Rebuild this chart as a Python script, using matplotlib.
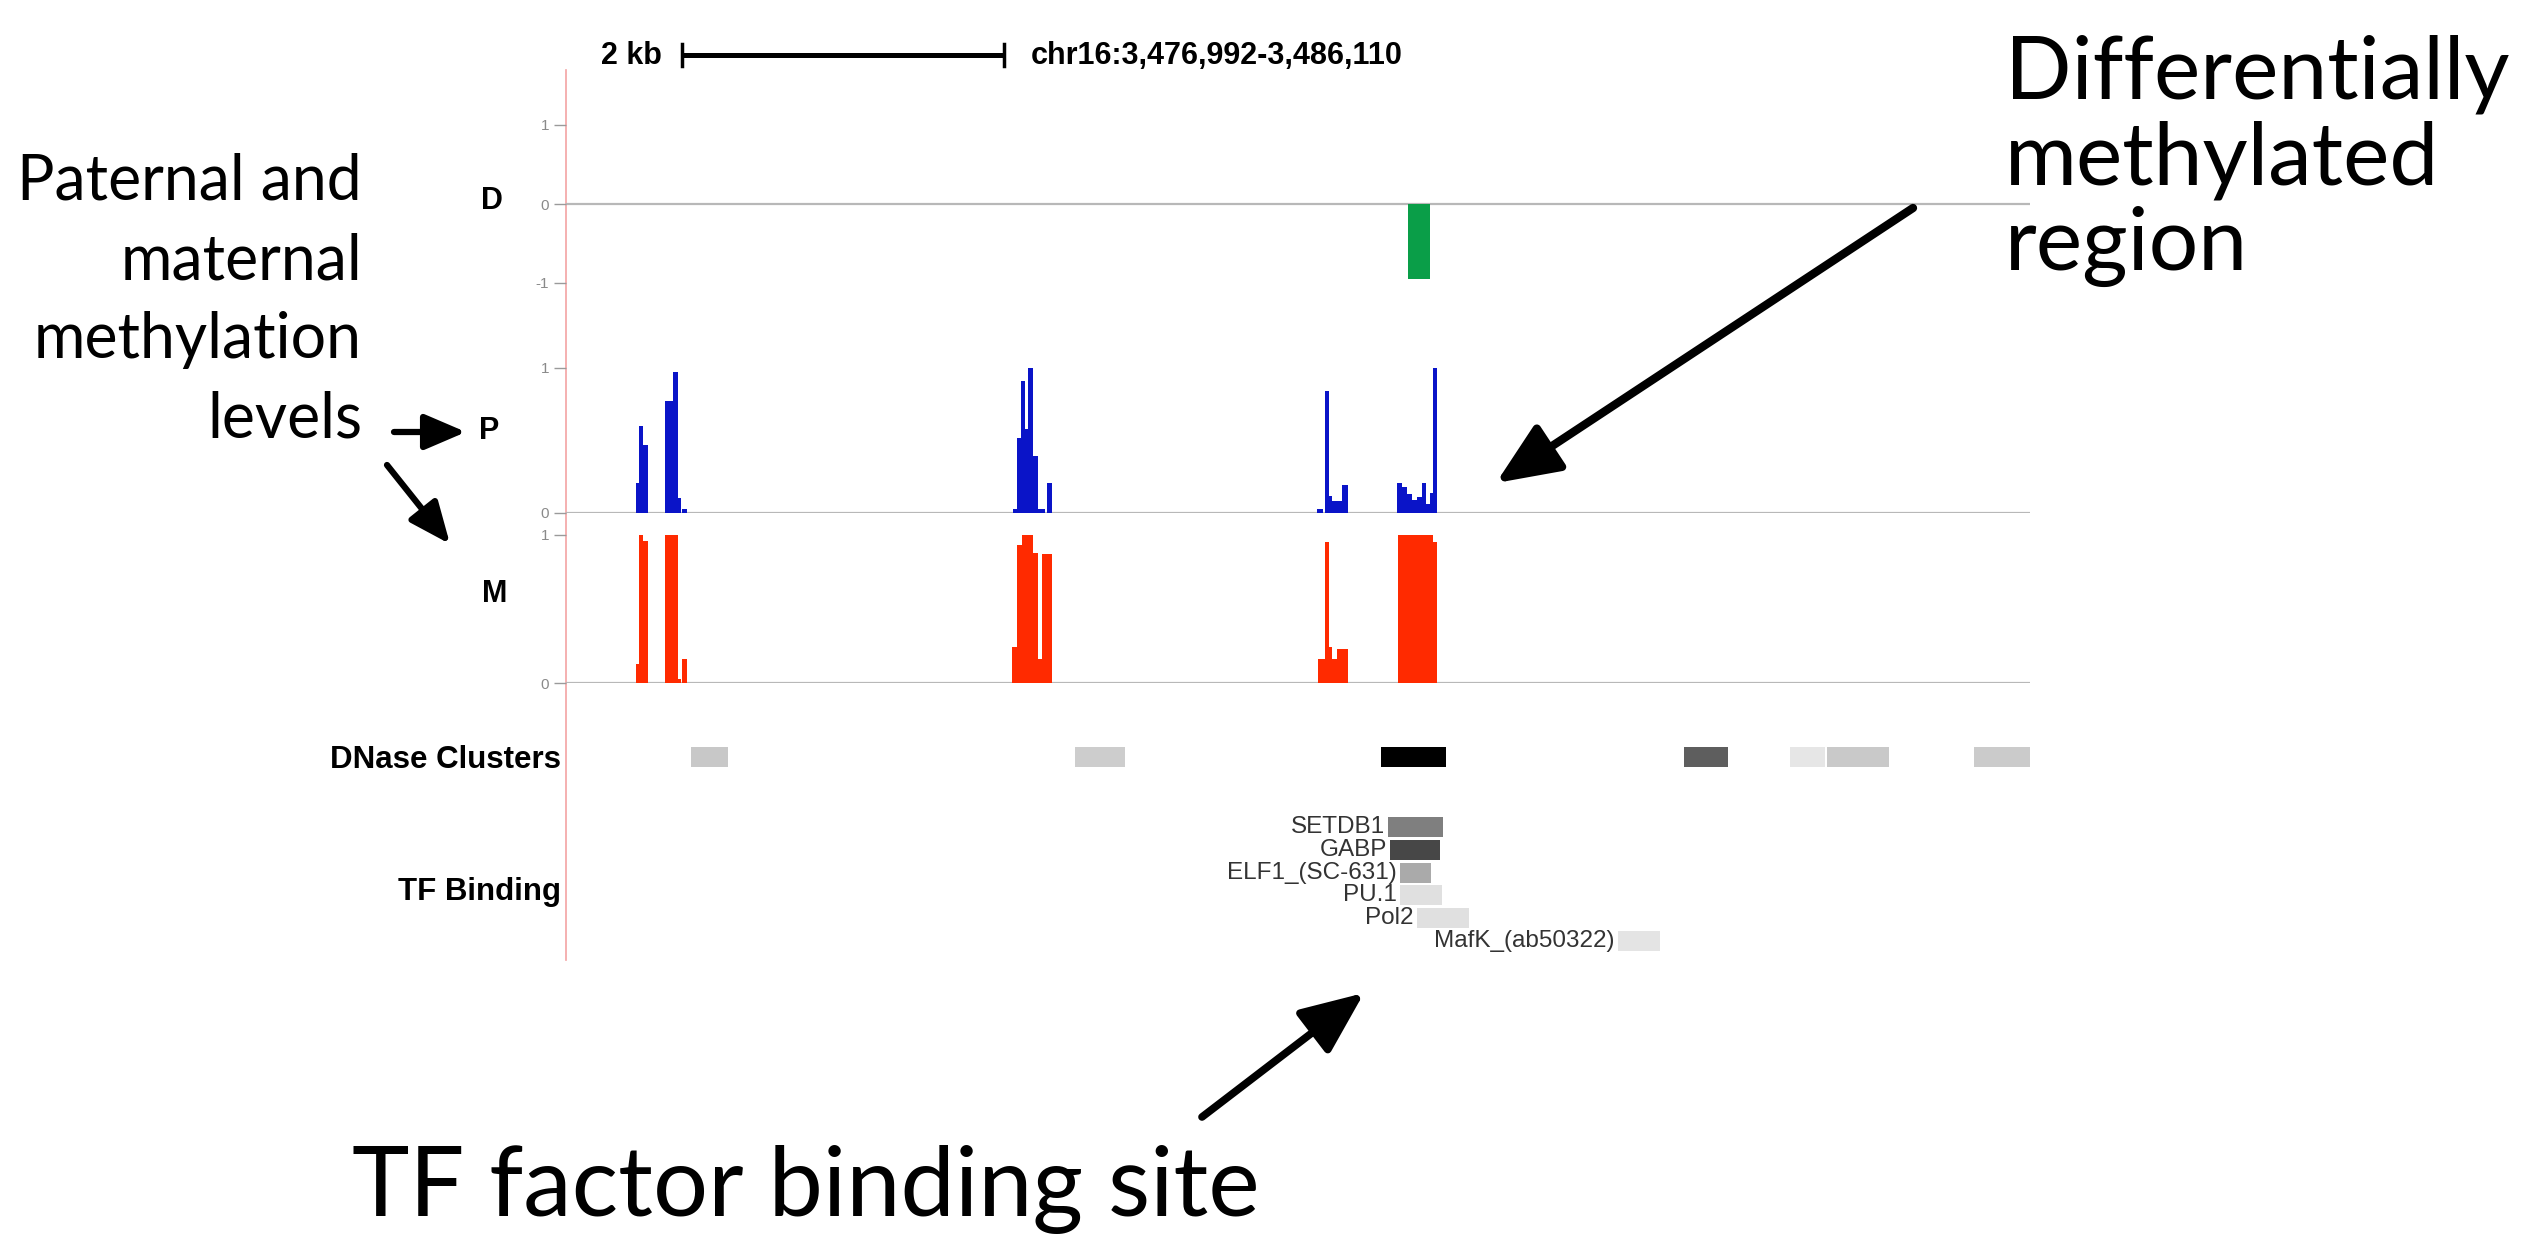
import matplotlib
matplotlib.use('Agg')
import matplotlib.pyplot as plt

# ---------------- data (bp offsets from region start) ----------------
REGION_START = 3476992
REGION_END = 3486110
REGION_LEN = REGION_END - REGION_START
region_label = "chr16:3,476,992-3,486,110"

scale_bar_start = 725
scale_bar_len = 2000
scale_bar_label = "2 kb"

# D: difference track
d_start = [5244]
d_end = [5381]
d_val = [-0.95]

# P: paternal methylation
p_start = [436, 455, 480, 617, 666, 698, 722,
           2784, 2809, 2834, 2859, 2877, 2908, 2940, 2996,
           4677, 4727, 4752, 4771, 4833,
           5175, 5207, 5238, 5269, 5300, 5331, 5356, 5381, 5400]
p_end = [455, 480, 511, 666, 698, 716, 754,
         2809, 2834, 2859, 2877, 2908, 2940, 2983, 3027,
         4715, 4752, 4771, 4833, 4870,
         5207, 5238, 5269, 5300, 5331, 5356, 5381, 5400, 5425]
p_val = [0.21, 0.60, 0.47, 0.77, 0.97, 0.10, 0.03,
         0.03, 0.52, 0.91, 0.58, 1.0, 0.39, 0.03, 0.21,
         0.03, 0.84, 0.12, 0.08, 0.19,
         0.21, 0.18, 0.13, 0.09, 0.11, 0.21, 0.06, 0.14, 1.0]

# M: maternal methylation
m_start = [436, 455, 480, 617, 698, 722,
           2778, 2809, 2840, 2877, 2908, 2940, 2965,
           4683, 4727, 4752, 4771, 4802,
           5182, 5400]
m_end = [455, 480, 511, 698, 716, 754,
         2809, 2840, 2877, 2908, 2940, 2965, 3027,
         4727, 4752, 4771, 4802, 4870,
         5400, 5425]
m_val = [0.13, 1.0, 0.96, 1.0, 0.03, 0.16,
         0.24, 0.93, 1.0, 1.0, 0.88, 0.16, 0.87,
         0.16, 0.95, 0.24, 0.16, 0.23,
         1.0, 0.95]

# DNase clusters
dnase_start = [779, 3170, 5076, 6963, 7623, 7853, 8769]
dnase_end = [1009, 3481, 5481, 7237, 7841, 8240, 9118]
dnase_shade = ['#c8c8c8', '#cdcdcd', '#000000', '#5e5e5e', '#e6e6e6', '#c9c9c9', '#cbcbcb']

# TF binding
tf_names = ['SETDB1', 'GABP', 'ELF1_(SC-631)', 'PU.1', 'Pol2', 'MafK_(ab50322)']
tf_start = [5119, 5132, 5194, 5194, 5300, 6552]
tf_end = [5462, 5443, 5387, 5456, 5624, 6813]
tf_shade = ['#7f7f7f', '#474747', '#aaaaaa', '#e0e0e0', '#e0e0e0', '#e4e4e4']

track_labels = ['D', 'P', 'M']

# ---------------- figure ----------------
W, H = 2531, 1234
fig = plt.figure(figsize=(W / 100, H / 100), dpi=100)
fig.patch.set_facecolor('white')

TRK = 'Liberation Sans'
ANN = 'Lato'


def ax_px(x0, y0, x1, y1):
    return fig.add_axes([x0 / W, 1 - y1 / H, (x1 - x0) / W, (y1 - y0) / H])


X0, X1 = 566, 2030


def clean(ax, yticks=None, ylabels=None):
    ax.set_xlim(0, REGION_LEN)
    ax.set_facecolor('none')
    for s in ax.spines.values():
        s.set_visible(False)
    ax.set_xticks([])
    if yticks is None:
        ax.set_yticks([])
    else:
        ax.set_yticks(yticks)
        ax.set_yticklabels(ylabels, fontsize=11, color='#8a8a8a', family=TRK)
        ax.tick_params(axis='y', length=9, width=1, color='#9a9a9a', pad=3, direction='out')


# frame with pink separator line
axf = ax_px(X0, 70, X1, 960)
axf.set_facecolor('none')
for k, s in axf.spines.items():
    s.set_visible(k == 'left')
axf.spines['left'].set_color('#f3a3a3')
axf.spines['left'].set_linewidth(1.2)
axf.set_xticks([]); axf.set_yticks([])

# D track
axD = ax_px(X0, 125, X1, 283)
clean(axD, [1, 0, -1], ['1', '0', '-1'])
axD.set_ylim(-1, 1)
axD.axhline(0, color='#b8b8b8', lw=1.6, zorder=1)
axD.bar(d_start, d_val, width=[e - s for s, e in zip(d_start, d_end)], align='edge',
        color='#0a9e48', linewidth=0, zorder=2)

# P track
axP = ax_px(X0, 368, X1, 513)
clean(axP, [1, 0], ['1', '0'])
axP.set_ylim(0, 1)
axP.axhline(0, color='#b8b8b8', lw=1.6, zorder=1)
axP.bar(p_start, p_val, width=[e - s for s, e in zip(p_start, p_end)], align='edge',
        color='#0a14c8', linewidth=0, zorder=2, clip_on=False)

# M track
axM = ax_px(X0, 535, X1, 683)
clean(axM, [1, 0], ['1', '0'])
axM.set_ylim(0, 1)
axM.axhline(0, color='#b8b8b8', lw=1.6, zorder=1)
axM.bar(m_start, m_val, width=[e - s for s, e in zip(m_start, m_end)], align='edge',
        color='#ff2a00', linewidth=0, zorder=2, clip_on=False)

# DNase clusters
axN = ax_px(X0, 747, X1, 767)
clean(axN)
axN.set_ylim(0, 1)
axN.bar(dnase_start, [1] * len(dnase_start),
        width=[e - s for s, e in zip(dnase_start, dnase_end)], align='edge',
        color=dnase_shade, linewidth=0)

# TF binding
axT = ax_px(X0, 816, X1, 952)
clean(axT)
axT.set_ylim(len(tf_names), 0)
rows = [i + 0.5 for i in range(len(tf_names))]
axT.barh(rows, [e - s for s, e in zip(tf_start, tf_end)], left=tf_start,
         height=0.88, color=tf_shade, linewidth=0)
for r, name, s in zip(rows, tf_names, tf_start):
    axT.annotate(name, xy=(s, r), xytext=(-3, 0), textcoords='offset pixels',
                 ha='right', va='center', fontsize=17.5, color='#333333', family=TRK)

# scale bar (in genomic coordinates, above the tracks)
axS = ax_px(X0, 35, X1, 75)
clean(axS)
axS.set_ylim(0, 1)
sb0, sb1 = scale_bar_start, scale_bar_start + scale_bar_len
axS.plot([sb0, sb1], [0.5, 0.5], color='black', lw=3.6, solid_capstyle='butt', clip_on=False)
axS.plot([sb0, sb0], [0.22, 0.78], color='black', lw=2.5, clip_on=False)
axS.plot([sb1, sb1], [0.22, 0.78], color='black', lw=2.5, clip_on=False)

# ---------------- overlay for labels/annotations (pixel space) ----------------
ov = fig.add_axes([0, 0, 1, 1])
ov.set_xlim(0, W)
ov.set_ylim(H, 0)
ov.axis('off')
ov.set_facecolor('none')

ov.text(662, 56, scale_bar_label, ha='right', va='center', fontsize=22, fontweight='bold', family=TRK)
ov.text(1031, 56, region_label, ha='left', va='center', fontsize=22, fontweight='bold', family=TRK)

for lab, (x, y) in zip(track_labels, [(492, 201), (489, 431), (495, 594)]):
    ov.text(x, y, lab, ha='center', va='center', fontsize=22, fontweight='bold', family=TRK)

ov.text(561, 760, 'DNase Clusters', ha='right', va='center', fontsize=22.5, fontweight='bold', family=TRK)
ov.text(561, 892, 'TF Binding', ha='right', va='center', fontsize=22.5, fontweight='bold', family=TRK)

# annotations
for txt, yb in zip(['Paternal and', 'maternal', 'methylation', 'levels'], [200, 280, 358, 438]):
    ov.text(362, yb, txt, ha='right', va='baseline', fontsize=45, family=ANN)

for txt, yb in zip(['Differentially', 'methylated', 'region'], [99, 185, 270]):
    ov.text(2005, yb, txt, ha='left', va='baseline', fontsize=63, family=ANN)

ov.text(352, 1216, 'TF factor binding site', ha='left', va='baseline', fontsize=70, family=ANN)


def arrow(tail, tip, lw, ms):
    ov.annotate('', xy=tip, xytext=tail,
                arrowprops=dict(arrowstyle='-|>,head_length=0.7,head_width=0.3',
                                mutation_scale=ms, lw=lw, color='black',
                                shrinkA=0, shrinkB=0))


arrow((1913, 208), (1496, 483), 6, 55)
arrow((1202, 1117), (1364, 993), 5.5, 55)
arrow((394, 432), (466, 432), 4.5, 36)
arrow((387, 465), (450, 544), 4.5, 36)

fig.savefig('out.png', dpi=100, facecolor='white')
